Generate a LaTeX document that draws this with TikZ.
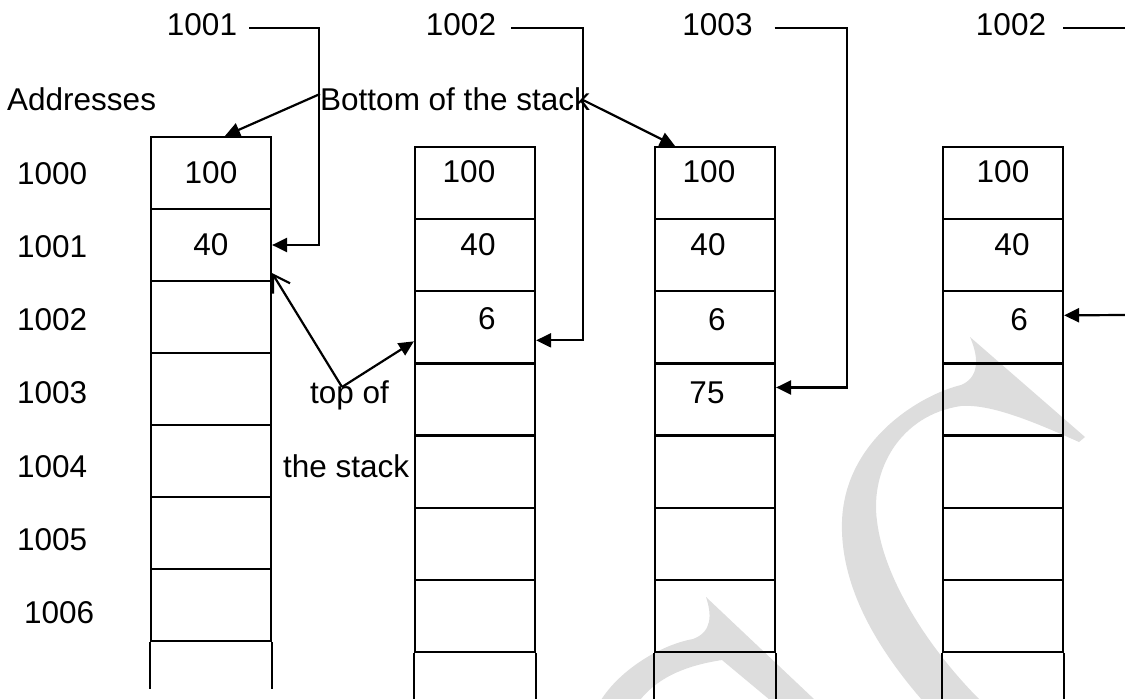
\documentclass[tikz,border=0pt]{standalone}
\usepackage{fontspec}
\setmainfont{Liberation Sans}
\usetikzlibrary{arrows.meta}
\definecolor{wmgray}{RGB}{221,221,221}
\begin{document}
\begin{tikzpicture}[x=1pt,y=-1pt,
  every node/.style={font=\fontsize{31.5}{38}\selectfont, inner sep=0pt},
  cellA/.style={draw, line width=2.2pt, minimum width=120pt, minimum height=72pt},
  cellB/.style={draw, line width=2.2pt, minimum width=120pt, minimum height=72.14pt},
  side/.style={line width=2.2pt},
  conn/.style={line width=2.2pt},
  arr/.style={conn, -{Triangle[length=15pt,width=14pt]}},
  barbarr/.style={conn, -{Straight Barb[length=16pt,width=20pt,line width=2.2pt]}},
  wm/.style={fill=wmgray, draw=none}]
\useasboundingbox (0,0) rectangle (1125,699);

% watermark
\path[wm] (970,337) -- (1085,437) -- (1079,442)
  .. controls (1030,420) and (990,404) .. (961,406)
  .. controls (900,415) and (870,470) .. (877,521)
  .. controls (884,580) and (930,650) .. (980,700) -- (922,700)
  .. controls (870,640) and (840,580) .. (842,521)
  .. controls (845,440) and (920,395) .. (961,385)
  .. controls (978,378) and (980,360) .. (970,337) -- cycle;
\path[wm] (706,597) -- (815,700) -- (770,700) -- (722,660)
  .. controls (690,665) and (660,675) .. (640,700) -- (601,700)
  .. controls (620,670) and (660,645) .. (693,639)
  .. controls (712,632) and (712,615) .. (706,597) -- cycle;

% stacks
\foreach \k in {1,...,7}{
  \node[cellA] (s1c\k) at (211,{173+72*(\k-1)}) {};
  \node[cellB] (s2c\k) at (475,{183.07+72.14*(\k-1)}) {};
  \node[cellB] (s3c\k) at (715,{183.07+72.14*(\k-1)}) {};
  \node[cellB] (s4c\k) at (1003,{183.07+72.14*(\k-1)}) {};
}
\draw[side] (s1c7.south west) -- ++(0,47);
\draw[side] (s1c7.south east) -- ++(0,47);
\foreach \s in {2,3,4}{
  \draw[side] (s\s c7.south west) -- ++(0,48);
  \draw[side] (s\s c7.south east) -- ++(0,48);
}

% cell values
\node (v11) at (211,173) {100};
\node (v12) at (211,245) {40};
\node (v21) at (469,172) {100};
\node (v22) at (478,245) {40};
\node (v23) at (487,319) {6};
\node (v31) at (709,172) {100};
\node (v32) at (708,245) {40};
\node (v33) at (717,320) {6};
\node (v34) at (707,393) {75};
\node (v41) at (1003,172) {100};
\node (v42) at (1012,245) {40};
\node (v43) at (1019,320) {6};

% address labels
\node[anchor=base west] (addr) at (7,110) {Addresses};
\node[anchor=base west] (a0) at (17,184) {1000};
\node[anchor=base west] (a1) at (17,257) {1001};
\node[anchor=base west] (a2) at (17,330) {1002};
\node[anchor=base west] (a3) at (17,403) {1003};
\node[anchor=base west] (a4) at (17,477) {1004};
\node[anchor=base west] (a5) at (17,550) {1005};
\node[anchor=base west] (a6) at (24,623) {1006};

% top labels and pointer lines
\node[inner xsep=12pt] (t1) at (202,25) {1001};
\node[inner xsep=15pt] (t2) at (461,25) {1002};
\node[inner xsep=22pt] (t3) at (717.5,25) {1003};
\node[inner xsep=17pt] (t4) at (1011,25) {1002};
\coordinate (b1) at (319,28);
\coordinate (b2) at (583,28);
\coordinate (b3) at (847,28);
\coordinate (e4a) at (1125,28);
\coordinate (e4b) at (1125,315);
\draw[arr] (t1.east |- b1) -- (b1) |- (s1c2.east);
\draw[arr] (t2.east |- b2) -- (b2) |- ([yshift=-13pt]s2c3.east);
\draw[arr] (t3.east |- b3) -- (b3) |- ([yshift=12pt]s3c4.east);
\draw[conn] (t4.east |- e4a) -- (e4a);
\draw[arr] (e4b) -- ([yshift=12pt]s4c3.east);

% bottom of the stack
\node[anchor=base west] (bot) at (320,110) {Bottom of the stack};
\coordinate (bs1) at (320,94);
\coordinate (bs2) at (583,100);
\draw[arr] (bs1) -- ([xshift=14pt]s1c1.north);
\draw[arr] (bs2) -- ([xshift=-40pt]s3c1.north);

% top of the stack
\node[anchor=base west] (top1) at (310,403) {top of};
\node[anchor=base west] (top2) at (283,477) {the stack};
\coordinate (apex) at (342,387);
\draw[barbarr] (apex) -- ([yshift=9pt]s1c2.south east);
\draw[arr] (apex) -- ([yshift=-14pt]s2c3.west);
\end{tikzpicture}
\end{document}
